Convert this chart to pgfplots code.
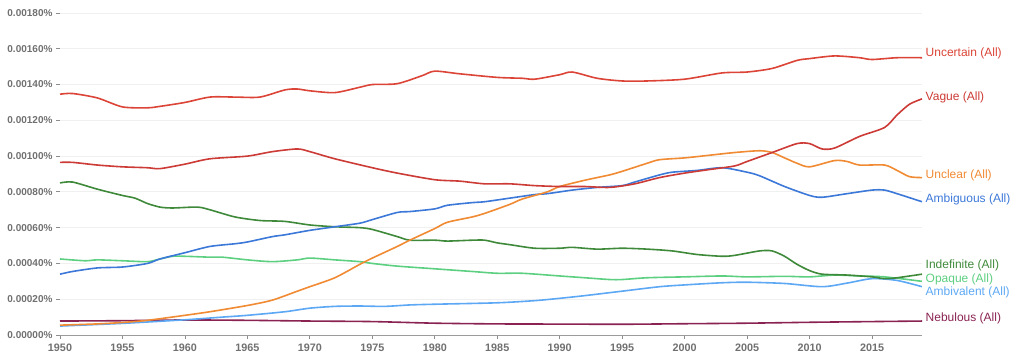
\documentclass[border=0pt]{standalone}
\usepackage{fontspec}
\setmainfont{Liberation Sans}
\usepackage{pgfplots}
\usepackage{pgfplotstable}
\pgfplotsset{compat=1.18}

\definecolor{cUncertain}{HTML}{DB4437}
\definecolor{cVague}{HTML}{CC3B36}
\definecolor{cUnclear}{HTML}{F08A33}
\definecolor{cAmbiguous}{HTML}{3C78D8}
\definecolor{cIndefinite}{HTML}{3F8A3A}
\definecolor{cOpaque}{HTML}{5CCF80}
\definecolor{cAmbivalent}{HTML}{5DA8F5}
\definecolor{cNebulous}{HTML}{8A2352}
\definecolor{tickgray}{HTML}{707070}
\definecolor{gridgray}{HTML}{F0F0F0}

\pgfplotstableread{
year val
1950 0.001346
1951 0.001350
1953 0.001325
1955 0.001275
1957 0.001270
1958 0.001278
1960 0.001300
1962 0.001330
1964 0.001330
1966 0.001330
1968 0.001370
1969 0.001375
1970 0.001365
1972 0.001355
1974 0.001385
1975 0.001400
1977 0.001405
1979 0.001450
1980 0.001475
1982 0.001460
1985 0.001440
1987 0.001435
1988 0.001430
1990 0.001455
1991 0.001470
1993 0.001435
1995 0.001420
1997 0.001420
2000 0.001430
2003 0.001465
2005 0.001470
2007 0.001490
2009 0.001535
2010 0.001545
2012 0.001560
2014 0.001550
2015 0.001540
2017 0.001550
2019 0.001550
}\tUncertain

\pgfplotstableread{
year val
1950 0.000965
1951 0.000965
1953 0.000950
1955 0.000940
1957 0.000935
1958 0.000930
1960 0.000955
1962 0.000985
1965 0.001000
1967 0.001025
1969 0.001040
1970 0.001025
1972 0.000985
1975 0.000935
1977 0.000905
1980 0.000868
1982 0.000860
1984 0.000845
1986 0.000845
1988 0.000835
1990 0.000830
1992 0.000830
1994 0.000825
1996 0.000845
1998 0.000880
2000 0.000905
2002 0.000925
2004 0.000945
2005 0.000970
2007 0.001020
2009 0.001070
2010 0.001070
2011 0.001040
2012 0.001045
2014 0.001110
2016 0.001160
2017 0.001230
2018 0.001290
2019 0.001320
}\tVague

\pgfplotstableread{
year val
1950 0.000055
1953 0.000062
1955 0.000070
1957 0.000082
1960 0.000110
1962 0.000130
1965 0.000165
1967 0.000195
1969 0.000245
1970 0.000270
1972 0.000320
1974 0.000395
1975 0.000430
1977 0.000495
1978 0.000530
1980 0.000595
1981 0.000630
1983 0.000660
1984 0.000680
1986 0.000730
1987 0.000760
1989 0.000800
1990 0.000830
1992 0.000865
1994 0.000895
1995 0.000915
1997 0.000960
1998 0.000980
2000 0.000990
2002 0.001005
2004 0.001020
2006 0.001030
2007 0.001020
2008 0.000990
2009 0.000960
2010 0.000940
2012 0.000975
2013 0.000970
2014 0.000950
2016 0.000950
2017 0.000920
2018 0.000885
2019 0.000880
}\tUnclear

\pgfplotstableread{
year val
1950 0.000340
1951 0.000355
1953 0.000375
1955 0.000380
1957 0.000400
1958 0.000425
1960 0.000460
1962 0.000495
1964 0.000510
1965 0.000520
1967 0.000550
1968 0.000560
1970 0.000585
1972 0.000605
1974 0.000625
1975 0.000645
1977 0.000685
1978 0.000690
1980 0.000705
1981 0.000725
1983 0.000740
1984 0.000745
1986 0.000765
1988 0.000785
1989 0.000790
1991 0.000810
1993 0.000825
1995 0.000835
1996 0.000855
1998 0.000895
1999 0.000910
2001 0.000920
2003 0.000935
2005 0.000910
2006 0.000890
2008 0.000830
2010 0.000780
2011 0.000770
2013 0.000790
2015 0.000810
2016 0.000810
2017 0.000790
2019 0.000745
}\tAmbiguous

\pgfplotstableread{
year val
1950 0.000850
1951 0.000855
1953 0.000815
1955 0.000780
1956 0.000765
1957 0.000735
1958 0.000715
1959 0.000710
1961 0.000715
1962 0.000700
1964 0.000660
1966 0.000640
1968 0.000635
1970 0.000615
1972 0.000605
1974 0.000600
1975 0.000590
1977 0.000550
1978 0.000530
1980 0.000530
1981 0.000525
1983 0.000530
1984 0.000530
1985 0.000515
1986 0.000505
1988 0.000485
1990 0.000485
1991 0.000490
1993 0.000480
1995 0.000485
1997 0.000480
1999 0.000470
2001 0.000450
2003 0.000440
2004 0.000445
2006 0.000470
2007 0.000470
2008 0.000440
2009 0.000395
2010 0.000360
2011 0.000340
2013 0.000335
2015 0.000325
2016 0.000315
2017 0.000320
2019 0.000340
}\tIndefinite

\pgfplotstableread{
year val
1950 0.000425
1952 0.000415
1953 0.000420
1955 0.000415
1957 0.000410
1958 0.000425
1959 0.000440
1960 0.000440
1962 0.000435
1963 0.000435
1965 0.000420
1967 0.000410
1969 0.000420
1970 0.000430
1972 0.000420
1974 0.000410
1975 0.000400
1977 0.000385
1980 0.000370
1983 0.000355
1985 0.000345
1987 0.000345
1990 0.000330
1992 0.000320
1994 0.000310
1995 0.000310
1997 0.000320
2000 0.000325
2003 0.000330
2005 0.000325
2008 0.000328
2010 0.000325
2012 0.000335
2014 0.000330
2016 0.000325
2019 0.000300
}\tOpaque

\pgfplotstableread{
year val
1950 0.000050
1955 0.000065
1960 0.000085
1963 0.000100
1965 0.000110
1968 0.000130
1970 0.000150
1972 0.000160
1974 0.000162
1976 0.000160
1978 0.000168
1980 0.000172
1985 0.000180
1988 0.000192
1990 0.000205
1992 0.000220
1995 0.000245
1998 0.000270
2000 0.000280
2003 0.000292
2005 0.000295
2008 0.000288
2011 0.000270
2013 0.000290
2015 0.000315
2017 0.000305
2019 0.000270
}\tAmbivalent

\pgfplotstableread{
year val
1950 0.000078
1955 0.000080
1960 0.000084
1965 0.000082
1970 0.000078
1975 0.000075
1980 0.000066
1985 0.000062
1990 0.000061
1995 0.000060
2000 0.000063
2005 0.000066
2010 0.000071
2015 0.000075
2019 0.000078
}\tNebulous

\begin{document}
\begin{tikzpicture}[x=1pt,y=1pt]
\useasboundingbox (0,0) rectangle (1024,358);
\begin{axis}[
  at={(60pt,23pt)}, anchor=south west,
  scale only axis, width=862pt, height=322pt,
  xmin=1950, xmax=2019, ymin=0, ymax=0.0018,
  clip=false,
  axis x line=bottom, axis y line=left,
  axis line style={-},
  x axis line style={draw=tickgray!70, line width=0.8pt},
  y axis line style={draw=none},
  xtick={1950,1955,...,2015},
  xticklabels={1950,1955,1960,1965,1970,1975,1980,1985,1990,1995,2000,2005,2010,2015},
  xticklabel style={font=\fontsize{10.8}{12}\selectfont\bfseries, text=tickgray, yshift=-1pt},
  ytick={0,0.0002,0.0004,0.0006,0.0008,0.0010,0.0012,0.0014,0.0016,0.0018},
  yticklabels={0.00000\%,0.00020\%,0.00040\%,0.00060\%,0.00080\%,0.00100\%,0.00120\%,0.00140\%,0.00160\%,0.00180\%},
  yticklabel style={font=\fontsize{10}{11}\selectfont\bfseries, text=tickgray, xshift=0pt},
  tick align=outside,
  major tick length=4pt,
  tick style={draw=tickgray!80, line width=0.8pt},
  ymajorgrids, grid style={draw=gridgray, line width=0.8pt},
  scaled y ticks=false,
  every axis plot/.append style={line width=1.6pt, smooth, tension=0.45, mark=none},
]
\addplot[cNebulous] table[x=year,y=val]{\tNebulous};
\addplot[cAmbivalent] table[x=year,y=val]{\tAmbivalent};
\addplot[cOpaque] table[x=year,y=val]{\tOpaque};
\addplot[cIndefinite] table[x=year,y=val]{\tIndefinite};
\addplot[cAmbiguous] table[x=year,y=val]{\tAmbiguous};
\addplot[cUnclear] table[x=year,y=val]{\tUnclear};
\addplot[cVague] table[x=year,y=val]{\tVague};
\addplot[cUncertain] table[x=year,y=val]{\tUncertain};

\begin{scope}[every node/.style={anchor=west, font=\fontsize{12}{14}\selectfont, inner sep=0pt, xshift=3.5pt}]
\node[text=cUncertain] at (axis cs:2019,0.001575) {Uncertain (All)};
\node[text=cVague] at (axis cs:2019,0.001330) {Vague (All)};
\node[text=cUnclear] at (axis cs:2019,0.000894) {Unclear (All)};
\node[text=cAmbiguous] at (axis cs:2019,0.000760) {Ambiguous (All)};
\node[text=cIndefinite] at (axis cs:2019,0.000390) {Indefinite (All)};
\node[text=cOpaque] at (axis cs:2019,0.000313) {Opaque (All)};
\node[text=cAmbivalent] at (axis cs:2019,0.000240) {Ambivalent (All)};
\node[text=cNebulous] at (axis cs:2019,0.000095) {Nebulous (All)};
\end{scope}
\end{axis}
\end{tikzpicture}
\end{document}
